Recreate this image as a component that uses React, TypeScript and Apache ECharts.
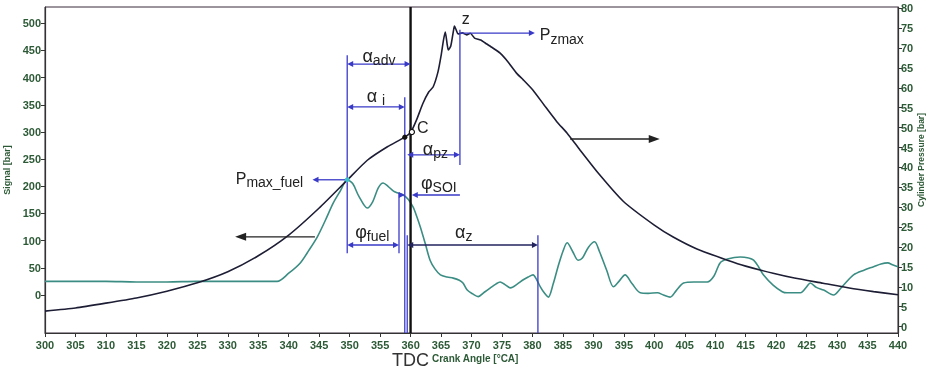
import React, { useEffect, useRef } from "react";
import * as echarts from "echarts";

// ---- data (crank angle in °CA) ----
const signalAngles = [300, 305, 310, 315, 320, 325, 330, 335, 338.1, 340, 341.9, 343.3, 344.7, 346, 347.3, 348.5, 349.6, 350.5, 351.5, 352.9, 353.8, 354.7, 355.5, 356.3, 357.2, 357.8, 358.8, 359.6, 360.4, 361.0, 361.6, 362.4, 363.2, 364.0, 364.9, 366, 367, 368, 368.6, 369.3, 370.2, 371.1, 372.1, 373.1, 374.0, 374.7, 375.5, 376.4, 377.5, 378.5, 379.3, 380.1, 380.7, 381.3, 382.0, 382.6, 383.4, 384.2, 385, 385.7, 386.6, 387.5, 388.2, 389.2, 390.2, 391, 392.2, 393.3, 394.2, 395.2, 396.4, 397.7, 399, 400.5, 401.5, 402.6, 403.6, 404.8, 406.5, 408.7, 409.8, 410.8, 412, 414.1, 415.5, 416.3, 417.1, 417.9, 419.5, 421, 421.8, 424.0, 425.0, 425.6, 426.6, 427.8, 429.4, 430.8, 432.7, 434.5, 436, 437.2, 438.3, 439.2, 440];
const signalValues = [25, 25, 25, 24, 24, 25, 25, 25, 25, 40, 59, 82, 107, 137, 169, 192, 212, 205, 182, 160, 172, 197, 206, 200, 191, 188, 184, 176, 162, 145, 125, 95, 64, 48, 37, 33, 31, 27, 22, 9, 2, -3, 5, 13, 20, 24, 19, 13, 20, 28, 33, 37, 28, 15, 3, -4, 20, 52, 80, 96, 80, 64, 68, 88, 98, 80, 45, 15, 25, 37, 20, 4, 3, 4, 0, -4, 8, 22, 24, 24, 35, 59, 66, 70, 68, 64, 52, 37, 18, 6, 4, 4, 15, 22, 14, 9, 0, 15, 37, 46, 52, 57, 59, 55, 52];

const pressureAngles = [300, 305, 310, 315, 320, 325, 330, 335, 340, 345, 349.6, 352.9, 356.2, 359.05, 360.05, 361, 362, 363, 363.7, 364.5, 365.0, 365.4, 365.7, 366.0, 366.2, 366.6, 367.0, 367.2, 367.5, 367.8, 368.5, 369.2, 369.8, 370.5, 371.5, 372.5, 373.5, 374.7, 376, 377.5, 378.5, 380.1, 382, 384, 385.7, 387.8, 391, 394.9, 400, 403.1, 407, 412, 415, 419.5, 423, 427.7, 432, 436, 440];
const pressureValues = [3.9, 4.7, 5.9, 7.2, 8.9, 11.0, 13.8, 17.8, 23.0, 29.8, 36.8, 41.8, 45.2, 47.6, 48.9, 52, 56, 59, 60.2, 64, 68, 72, 74, 71, 69.5, 70.5, 74, 75.5, 74.5, 73.5, 73.8, 73.3, 73.7, 72.5, 72, 71, 70, 68.7, 66.5, 63.5, 62, 59.4, 55.5, 51.5, 48.6, 44.4, 38.2, 31.5, 25.5, 22.5, 19.5, 16.7, 15.2, 13.4, 12.2, 10.9, 9.7, 8.8, 8.0];

const xTicks = [300, 305, 310, 315, 320, 325, 330, 335, 340, 345, 350, 355, 360, 365, 370, 375, 380, 385, 390, 395, 400, 405, 410, 415, 420, 425, 430, 435, 440];
const signalTicks = [0, 50, 100, 150, 200, 250, 300, 350, 400, 450, 500];
const pressureTicks = [0, 5, 10, 15, 20, 25, 30, 35, 40, 45, 50, 55, 60, 65, 70, 75, 80];

// ---- annotations (crank angle, signal-axis value) ----
const tdcAngle = 360;
const markerLines = [
  { x: 349.6, y1: 441, y2: 77 },
  { x: 359.05, y1: 364, y2: -70 },
  { x: 358.1, y1: 188, y2: 77 },
  { x: 359.45, y1: 110, y2: -70 },
  { x: 368.1, y1: 488, y2: 239 },
  { x: 380.9, y1: 110, y2: -70 },
];
const arrows = [
  { x1: 349.6, x2: 360, y: 425, heads: "both", kind: "blue" },
  { x1: 349.6, x2: 359.05, y: 346, heads: "both", kind: "blue" },
  { x1: 359.45, x2: 368.1, y: 258, heads: "both", kind: "blue" },
  { x1: 368.1, x2: 380.4, y: 482, heads: "end", kind: "blue" },
  { x1: 349.6, x2: 343.9, y: 212, heads: "end", kind: "blue" },
  { x1: 358.1, x2: 359.05, y: 184, heads: "end", kind: "blue" },
  { x1: 368.1, x2: 360.2, y: 184, heads: "end", kind: "blue" },
  { x1: 349.6, x2: 358.1, y: 92, heads: "both", kind: "blue" },
  { x1: 359.45, x2: 380.9, y: 92, heads: "both", kind: "navy" },
  { x1: 344.3, x2: 331.2, y: 107, heads: "end", kind: "black" },
  { x1: 386.2, x2: 400.9, y: 287, heads: "end", kind: "black" },
];
const labels = [
  { main: "α", sub: "adv", x: 352.1, y: 440, big: true },
  { main: "α ", sub: "i", x: 352.8, y: 366, big: true },
  { main: "C", sub: "", x: 361.05, y: 309, big: false },
  { main: "α", sub: "pz", x: 362.0, y: 269, big: true },
  { main: "z", sub: "", x: 368.4, y: 508, big: false },
  { main: "P", sub: "zmax", x: 381.2, y: 479, big: false },
  { main: "P", sub: "max_fuel", x: 331.3, y: 215, big: false },
  { main: "φ", sub: "SOI", x: 361.7, y: 206, big: true },
  { main: "φ", sub: "fuel", x: 350.9, y: 116, big: true },
  { main: "α", sub: "z", x: 367.3, y: 116, big: true },
];

const FONT = "Arial, 'Liberation Sans', sans-serif";
const AXFONT = "'Liberation Sans Narrow', 'Liberation Sans', Arial, sans-serif";
const AXCOLOR = "#2d5a36";

export default function App() {
  const ref = useRef<HTMLDivElement>(null);
  useEffect(() => {
    const chart = echarts.init(ref.current!, null, { renderer: "svg" });
    const axisLabel = { color: AXCOLOR, fontWeight: "bold", fontSize: 11, fontFamily: AXFONT };
    chart.setOption({
      animation: false,
      grid: { left: 45, right: 31, top: 7, bottom: 37, show: true, borderColor: "#3a2a3a", borderWidth: 1, containLabel: false, outerBoundsMode: "none" },
      xAxis: {
        type: "value", min: 300, max: 440, interval: 5,
        axisLine: { show: true, onZero: false, lineStyle: { color: "#333", width: 1.2 } },
        axisTick: { show: true, length: 4, lineStyle: { color: "#333" }, customValues: xTicks },
        axisLabel: { ...axisLabel, margin: 6, customValues: xTicks },
        splitLine: { show: false },
      },
      yAxis: [
        {
          type: "value", min: -70, max: 530, position: "left",
          name: "Signal [bar]", nameLocation: "middle", nameGap: 28, nameRotate: 90,
          nameTextStyle: { color: AXCOLOR, fontSize: 9, fontWeight: "bold", fontFamily: AXFONT },
          axisLine: { show: true, onZero: false, lineStyle: { color: "#333", width: 1.2 } },
          axisTick: { show: true, length: 4, lineStyle: { color: "#333" }, customValues: signalTicks },
          axisLabel: { ...axisLabel, margin: 4, customValues: signalTicks },
          splitLine: { show: false },
        },
        {
          type: "value", min: -1.6, max: 80.3, position: "right",
          axisLine: { show: true, onZero: false, lineStyle: { color: "#333", width: 1.2 } },
          axisTick: { show: true, length: 4, lineStyle: { color: "#333" }, customValues: pressureTicks },
          axisLabel: { ...axisLabel, margin: 3, customValues: pressureTicks },
          splitLine: { show: false },
        },
      ],
      series: [
        {
          type: "line", name: "Signal", yAxisIndex: 0, showSymbol: false, smooth: 0.3,
          data: signalAngles.map((a, i) => [a, signalValues[i]]),
          lineStyle: { color: "#3b8d83", width: 1.6 },
        },
        {
          type: "line", name: "Cylinder Pressure", yAxisIndex: 1, showSymbol: false, smooth: 0.2,
          data: pressureAngles.map((a, i) => [a, pressureValues[i]]),
          lineStyle: { color: "#1d1d35", width: 1.6 },
        },
      ],
    });

    const toPx = (x: number, y: number) => chart.convertToPixel({ xAxisIndex: 0, yAxisIndex: 0 }, [x, y]) as number[];
    const toPxR = (x: number, y: number) => chart.convertToPixel({ xAxisIndex: 0, yAxisIndex: 1 }, [x, y]) as number[];
    const colors: Record<string, string> = { blue: "#3a3ac8", navy: "#23235e", black: "#222" };
    const g: any[] = [];

    // TDC line
    {
      const a = toPx(tdcAngle, 530), b = toPx(tdcAngle, -70);
      g.push({ type: "line", shape: { x1: a[0], y1: a[1], x2: b[0], y2: b[1] }, style: { stroke: "#111", lineWidth: 2.4 }, z: 10 });
    }
    markerLines.forEach((m) => {
      const a = toPx(m.x, m.y1), b = toPx(m.x, m.y2);
      g.push({ type: "line", shape: { x1: a[0], y1: a[1], x2: b[0], y2: b[1] }, style: { stroke: colors.blue, lineWidth: 1.3 }, z: 9 });
    });
    const head = (x: number, y: number, dir: number, L: number, W: number, color: string) => ({
      type: "polygon", shape: { points: [[x, y], [x - dir * L, y - W / 2], [x - dir * L, y + W / 2]] }, style: { fill: color }, z: 11,
    });
    arrows.forEach((ar) => {
      const p1 = toPx(ar.x1, ar.y), p2 = toPx(ar.x2, ar.y);
      const color = colors[ar.kind];
      const big = ar.kind === "black";
      const L = big ? 11 : 6, W = big ? 8 : 6;
      const dir = Math.sign(p2[0] - p1[0]);
      let sx = p1[0], ex = p2[0];
      g.push(head(p2[0], p2[1], dir, L, W, color));
      ex = p2[0] - dir * (L - 1);
      if (ar.heads === "both") {
        g.push(head(p1[0], p1[1], -dir, L, W, color));
        sx = p1[0] + dir * (L - 1);
      }
      g.push({ type: "line", shape: { x1: sx, y1: p1[1], x2: ex, y2: p2[1] }, style: { stroke: color, lineWidth: big ? 1.4 : 1.3 }, z: 11 });
    });
    labels.forEach((lb) => {
      const p = toPx(lb.x, lb.y);
      const mainSize = lb.big ? 18 : 16;
      const text = lb.sub ? `{m|${lb.main}}{s|${lb.sub}}` : `{m|${lb.main}}`;
      g.push({
        type: "text", x: p[0], y: p[1], z: 12,
        style: {
          text, align: "left", verticalAlign: "middle",
          rich: {
            m: { fontSize: mainSize, fontFamily: FONT, fill: "#222", lineHeight: 22, verticalAlign: "middle" },
            s: { fontSize: 14, fontFamily: FONT, fill: "#222", lineHeight: 12, verticalAlign: "bottom" },
          },
        },
      });
    });
    // markers
    {
      const d = toPxR(359.05, 47.6);
      g.push({ type: "circle", shape: { cx: d[0], cy: d[1], r: 2.6 }, style: { fill: "#111" }, z: 13 });
      const c = toPxR(360.05, 48.9);
      g.push({ type: "circle", shape: { cx: c[0] + 1, cy: c[1], r: 2.6 }, style: { fill: "#fff", stroke: "#111", lineWidth: 1.2 }, z: 13 });
      const f = toPx(349.6, 212);
      g.push({ type: "circle", shape: { cx: f[0], cy: f[1], r: 2.4 }, style: { fill: "#3cc0c8" }, z: 13 });
    }
    // right axis name
    g.push({
      type: "text", x: 921, y: 160, rotation: Math.PI / 2, z: 12,
      style: { text: "Cylinder Pressure [bar]", fontSize: 8.5, fontWeight: "bold", fontFamily: AXFONT, fill: AXCOLOR, align: "center", verticalAlign: "middle" },
    });
    // bottom texts
    g.push({ type: "text", x: 392, y: 360, z: 12, style: { text: "TDC", fontSize: 18, fontFamily: FONT, fill: "#333", verticalAlign: "middle", align: "left" } });
    g.push({ type: "text", x: 432, y: 358, z: 12, style: { text: "Crank Angle [°CA]", fontSize: 10, fontWeight: "bold", fontFamily: AXFONT, fill: AXCOLOR, verticalAlign: "middle", align: "left" } });

    chart.setOption({ graphic: g });
    return () => chart.dispose();
  }, []);
  return <div ref={ref} style={{ position: "fixed", left: 0, top: 0, width: 929, height: 370 }} />;
}
